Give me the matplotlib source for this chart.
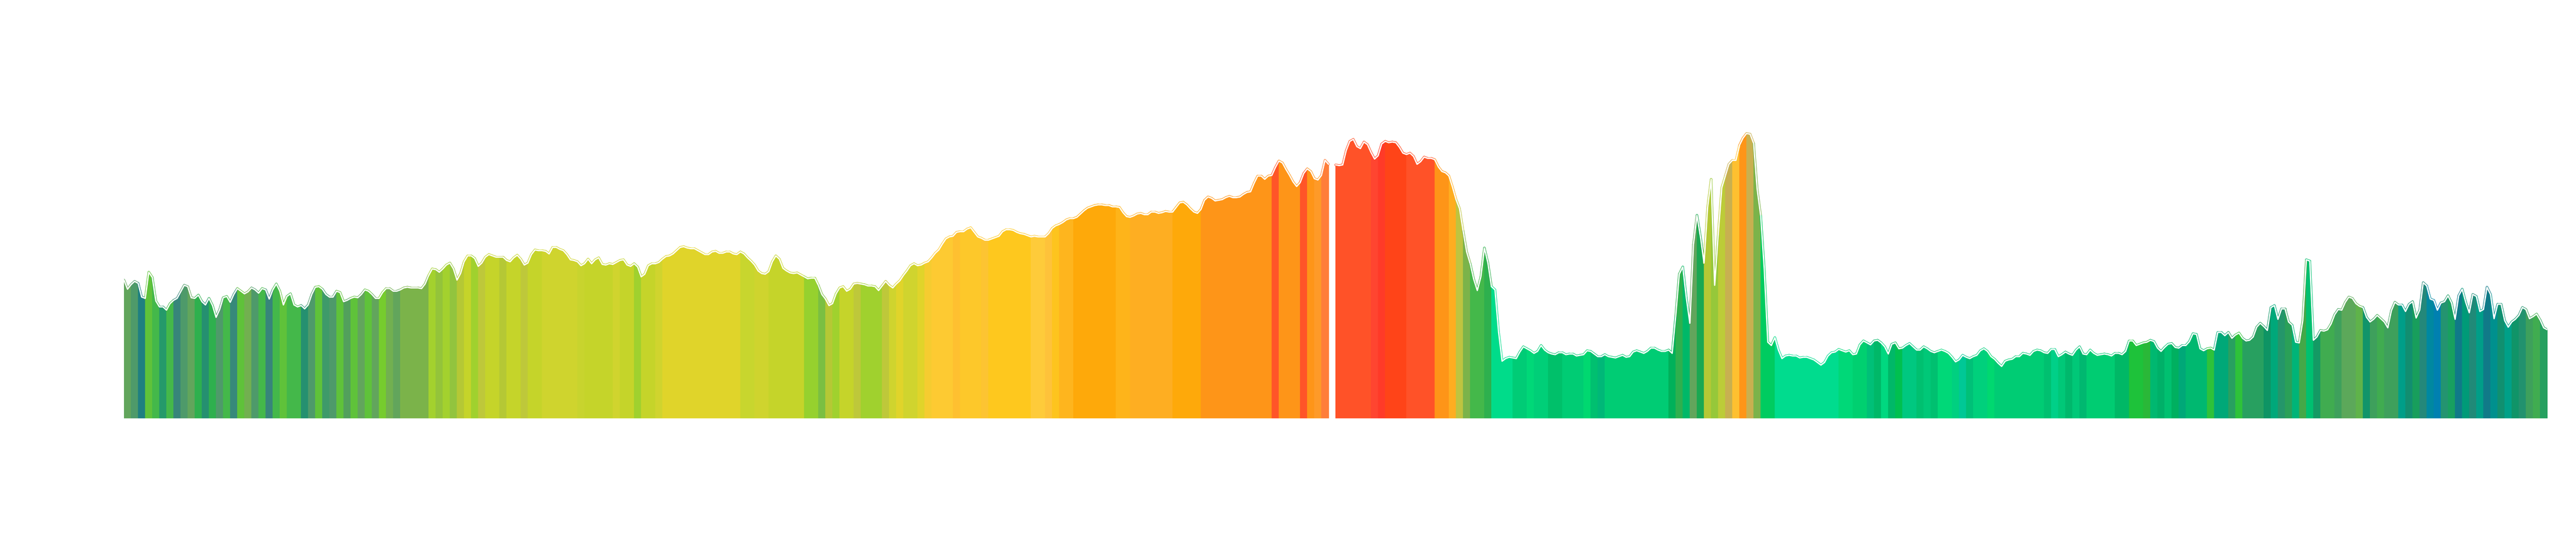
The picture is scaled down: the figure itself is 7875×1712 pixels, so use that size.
import numpy as np
import matplotlib
matplotlib.use("Agg")
import matplotlib.pyplot as plt
from matplotlib.collections import LineCollection

# readings, two per colour band (half-band steps), in arbitrary intensity units
before_gap = [
    211, 197, 204, 209, 206, 185, 183, 223, 215, 179, 170, 170, 165, 175, 180, 183, 193, 203, 201, 184,
    183, 188, 178, 173, 183, 172, 154, 166, 184, 186, 177, 189, 198, 194, 190, 193, 199, 196, 191, 198,
    196, 182, 196, 205, 194, 173, 186, 190, 173, 170, 172, 167, 173, 189, 200, 201, 197, 189, 185, 185,
    194, 192, 178, 180, 183, 185, 184, 189, 196, 194, 189, 183, 183, 192, 198, 198, 194, 194, 196, 199,
    200, 199, 199, 199, 198,
    205, 218, 228, 227, 223, 228, 234, 237, 228, 211, 221, 239, 248, 248, 244, 232, 237, 246, 250, 248,
    246, 246, 246, 241, 239, 245, 249, 243, 234, 237, 250, 257, 256, 256, 255, 251, 261, 261, 258, 256,
    250, 242, 241, 239, 233, 236, 243, 236, 242, 245, 235, 234, 236, 235, 238, 241, 242, 234, 232, 236,
    231, 216, 220, 233, 236, 236, 238, 243, 247, 248, 251, 256, 261, 262, 260, 259, 259, 256, 253, 250,
    250, 254, 255, 252, 252, 254, 254,
    251, 250, 254, 251, 245, 240, 234, 225, 221, 220, 224, 239, 248, 243, 229, 225, 222, 221, 222, 219,
    216, 213, 214, 214, 203, 189, 182, 172, 175, 190, 199, 201, 194, 197, 205, 206, 205, 204, 202, 202,
    201, 195, 202, 209, 203, 199, 205, 210, 218, 225, 233, 236, 233, 234, 237, 239, 245, 252, 257, 266,
    274, 277, 278, 284, 285, 285, 289, 291, 284, 277, 275, 272, 272, 274, 276, 278, 285, 288, 288, 287,
    284, 282, 281, 279, 277, 278,
    277, 277, 277, 282, 290, 294, 296, 299, 303, 305, 305, 307, 312, 317, 321, 323, 325, 326, 326, 325,
    325, 323, 323, 322, 314, 308, 307, 309, 312, 313, 311, 311, 315, 315, 313, 314, 316, 315, 315, 322,
    329, 330, 326, 320, 315, 313, 319, 333, 338, 336, 332, 333, 334, 337, 339, 337, 337, 338, 342, 345,
    346, 359, 370, 370, 365, 370, 371, 383, 393, 390, 380, 371, 361, 354, 360, 374, 381, 377, 366, 364,
    371, 394, 388,
]

after_gap = [
    387, 386, 387, 409, 423, 426, 415, 412, 422, 418, 406, 396, 401, 419, 423, 421, 422, 421, 414, 405,
    403, 405, 400, 388, 392, 399, 397, 397, 395, 384, 377, 375, 370, 353, 334, 320, 286, 254, 236, 212,
    195, 216, 260, 237, 201, 196, 132, 87, 91, 93, 92, 91, 101, 109, 106, 103, 99, 102, 111, 104,
    100, 98, 97, 100, 100, 97, 98, 98, 95, 96, 97, 103, 102, 98, 94, 94, 97, 94, 93, 92,
    94, 96, 93, 94, 101, 103, 101,
    99, 102, 107, 107, 104, 102, 102, 104, 99, 156, 220, 231, 184, 145, 265, 310, 277, 237, 322, 365,
    203, 281, 352, 370, 388, 394, 394, 417, 428, 435, 434, 420, 350, 309, 228, 116, 111, 123, 104, 91,
    95, 96, 95, 95, 92, 93, 93, 91, 89, 85, 81, 85, 95, 100, 101, 105, 103, 101, 103, 97,
    98, 112, 118, 115, 112, 118, 119, 115, 109, 98, 113, 115, 106, 107, 111, 114, 109, 104, 104, 109,
    106, 102, 100, 102, 104, 102,
    99, 93, 86, 89, 96, 93, 91, 94, 96, 103, 106, 102, 94, 90, 84, 79, 87, 89, 90, 94,
    94, 99, 98, 96, 102, 104, 103, 100, 99, 105, 105, 94, 97, 101, 98, 96, 104, 109, 98, 97,
    104, 99, 96, 97, 98, 97, 95, 99, 99, 97, 102, 118, 118, 111, 113, 115, 116, 119, 117, 107,
    102, 108, 113, 114, 108, 107, 111, 111, 117, 129, 128, 106, 103, 106, 107, 104, 131, 131, 126, 131,
    122, 127, 130, 122, 118, 119,
    124, 139, 145, 140, 134, 169, 172, 151, 167, 167, 147, 142, 116, 115, 149, 242, 240, 119, 124, 134,
    133, 135, 144, 158, 166, 165, 177, 185, 183, 175, 171, 169, 154, 147, 151, 157, 152, 147, 138, 164,
    177, 173, 173, 163, 174, 178, 153, 165, 207, 202, 182, 180, 165, 176, 178, 187, 176, 151, 187, 197,
    177, 161, 189, 186, 163, 166, 200, 189, 152, 174, 174, 149, 139, 147, 151, 157, 169, 166, 152, 155,
    159, 150, 138, 135,
]

# band colours as (colour, number of bands); None = missing band
color_runs = [
    ("#62a55c", 1), ("#4e9a6a", 1), ("#1f8080", 1), ("#5fc23a", 1), ("#44b84a", 1),
    ("#259a6a", 1), ("#44b84a", 1), ("#37857a", 1), ("#4e9a6a", 1), ("#62a55c", 1),
    ("#2eb04e", 1), ("#259070", 1), ("#2eb04e", 1), ("#4e9a6a", 1), ("#44b84a", 1),
    ("#37897a", 1), ("#5fc23a", 1), ("#72b050", 1), ("#4e9a6a", 1), ("#44b84a", 1),
    ("#37857a", 1), ("#44b84a", 1), ("#5fc23a", 1), ("#44b84a", 2), ("#259070", 1),
    ("#4e9a6a", 1), ("#5fc23a", 1), ("#3e9a6a", 1), ("#4e9a6a", 1), ("#5fc23a", 1),
    ("#52a05c", 1), ("#5fc23a", 1), ("#62a55c", 1), ("#5fc23a", 1), ("#62a55c", 1),
    ("#76cc2e", 1), ("#72b050", 1), ("#62a55c", 1), ("#7bb34a", 4),
    ("#a3d12e", 1), ("#94c43a", 1), ("#a3d12e", 1), ("#92c43e", 1), ("#b5c835", 1),
    ("#c5d42a", 1), ("#a0d12e", 1), ("#bec83a", 1), ("#c5d42a", 2), ("#b5c835", 1),
    ("#c5d42a", 2), ("#bec83a", 1), ("#c5d42a", 2), ("#cfd42e", 5), ("#c8d42e", 1),
    ("#c5d42a", 4), ("#d0d42e", 1), ("#c5d42a", 2), ("#a0d12e", 1), ("#c5d42a", 2),
    ("#d0d42e", 1), ("#e0d42a", 11),
    ("#c8d62e", 2), ("#cfd42e", 2), ("#c5d42a", 5), ("#96d12e", 2), ("#7bbf42", 1),
    ("#b5c835", 1), ("#a0d12e", 1), ("#c5d42a", 2), ("#bec83a", 1), ("#a0d12e", 3),
    ("#bec83a", 1), ("#cfd42e", 1), ("#e0d42a", 1), ("#d0d42e", 2), ("#e0d42a", 1),
    ("#f5cc30", 1), ("#fdca32", 3), ("#fec030", 1), ("#fdc82a", 3), ("#fdc432", 1),
    ("#fec81e", 6),
    ("#fecb3a", 2), ("#fec23a", 1), ("#fdc41e", 1), ("#feb51e", 2), ("#fea90a", 6),
    ("#feb41a", 2), ("#feae22", 6), ("#fea90a", 4), ("#fe9518", 10), ("#ff5528", 1),
    ("#fe9518", 3), ("#ff5528", 1), ("#fe9518", 1), ("#fe9a28", 1), ("#ff7e3a", 1),
    (None, 1),
    ("#ff5228", 5), ("#ff4530", 1), ("#ff3a28", 1), ("#ff4418", 3), ("#ff5228", 4),
    ("#fe9518", 2), ("#fead20", 1), ("#bec440", 1), ("#7bb34a", 1), ("#44b84a", 2),
    ("#2eb04e", 1), ("#00dc8a", 3), ("#00cc76", 2), ("#00d878", 1), ("#00cf78", 2),
    ("#00c06a", 2), ("#00cc74", 3), ("#00d870", 1), ("#00c070", 1), ("#00b878", 1),
    ("#00cc74", 9),
    ("#00b15a", 1), ("#2eb04e", 1), ("#00b868", 1), ("#62a55c", 1), ("#1aa852", 1),
    ("#b5c835", 1), ("#96c83a", 1), ("#bccc38", 1), ("#c8b050", 1), ("#fec030", 1),
    ("#fe9518", 1), ("#c8b050", 1), ("#7bb34a", 1), ("#00cc60", 2), ("#00dc8e", 9),
    ("#00d878", 2), ("#00d070", 2), ("#00c078", 1), ("#00b868", 1), ("#00d880", 1),
    ("#00b868", 1), ("#00c050", 1), ("#00c880", 2), ("#00c070", 1), ("#00c878", 1),
    ("#00c070", 1), ("#00d878", 2),
    ("#00d080", 1), ("#00c896", 1), ("#00c078", 1), ("#00d07c", 2), ("#00d870", 1),
    ("#00cc74", 7), ("#00c070", 1), ("#00d088", 1), ("#00c878", 1), ("#00b86c", 1),
    ("#00c878", 1), ("#00b870", 1), ("#00cc72", 4), ("#00b866", 2), ("#1ec23a", 2),
    ("#2ab838", 1), ("#00b870", 1), ("#00b068", 1), ("#00c070", 1), ("#00b060", 1),
    ("#00a878", 1), ("#00b870", 3), ("#2ec23a", 1), ("#00a878", 2), ("#28a060", 1),
    ("#2ec23a", 1), ("#28a060", 3),
    ("#0e9464", 1), ("#00a87a", 1), ("#24966a", 1), ("#2aa058", 1), ("#00b478", 1),
    ("#44a848", 1), ("#00c070", 1), ("#149a64", 1), ("#40ac50", 2), ("#3ea05c", 1),
    ("#5ca85a", 2), ("#5fb34a", 1), ("#11946a", 1), ("#3ea05c", 1), ("#40ac50", 1),
    ("#3ea05c", 2), ("#009e88", 1), ("#128e70", 1), ("#189e5c", 1), ("#24887a", 1),
    ("#0088a0", 1), ("#0080b0", 1), ("#249470", 1), ("#18a060", 1), ("#107a88", 1),
    ("#009a78", 1), ("#208a78", 1), ("#009e88", 1), ("#107a88", 1), ("#00908e", 1),
    ("#109070", 1), ("#00a088", 1), ("#109468", 1), ("#22926e", 1), ("#3ea05c", 1),
    ("#40ac50", 1), ("#26a060", 1),
]

band_colors = []
for c, n in color_runs:
    band_colors += [c] * n

values = np.array(before_gap + [np.nan] + after_gap, dtype=float)
x = np.arange(len(values))

fig = plt.figure(figsize=(7875 / 300, 1712 / 300), dpi=300)
ax = fig.add_axes([379 / 7875, 434 / 1712, 7408 / 7875, 1278 / 1712])

# coloured bands under the curve
for k, c in enumerate(band_colors):
    if c is None:
        continue
    xs = x[2 * k:2 * k + 3]
    ys = values[2 * k:2 * k + 3]
    ax.fill_between(xs, 0, ys, facecolor=c, edgecolor=c, linewidth=0.5)

# coloured rim, then white line on top
segs, seg_cols = [], []
for j in range(len(values) - 1):
    if np.isnan(values[j]) or np.isnan(values[j + 1]):
        continue
    segs.append([(x[j], values[j]), (x[j + 1], values[j + 1])])
    seg_cols.append(band_colors[j // 2])
ax.add_collection(LineCollection(segs, colors=seg_cols, linewidths=1.7,
                                 capstyle="round", joinstyle="round"))
ax.plot(x, values, color="white", lw=1.0, solid_joinstyle="round",
        solid_capstyle="round")

ax.set_xlim(0, len(values) - 1)
ax.set_ylim(0, 639)
ax.axis("off")

fig.savefig("out.png", dpi=300)
